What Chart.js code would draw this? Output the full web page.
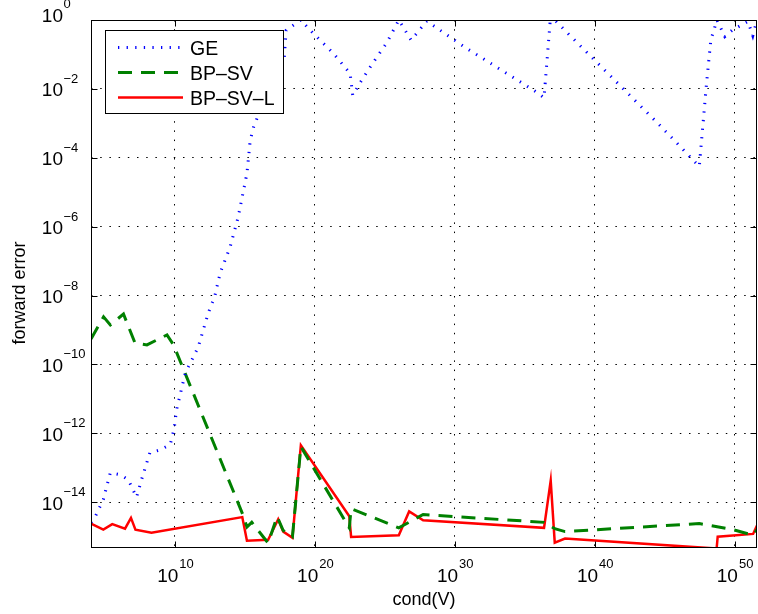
<!DOCTYPE html>
<html>
<head>
<meta charset="utf-8">
<script src="https://cdn.jsdelivr.net/npm/chart.js@4.4.1/dist/chart.umd.min.js"></script>
<style>
  html, body { margin: 0; padding: 0; background: #fff; }
</style>
</head>
<body>
<canvas id="errChart" width="758" height="614"></canvas>
<script>
// cond(V) and forward error
const condGE = [1.0e4, 2.0e4, 7.6e4, 2.4e5, 1.2e6, 4.6e6, 1.8e7, 4.1e7, 1.6e8, 8.5e8, 4.6e9, 8.9e9, 1.3e10,
  5.5e10, 4.6e11, 2.4e12, 7.2e12, 1.7e13, 8.9e13, 3.3e14, 1.4e15, 2.4e15, 4.1e15, 8.9e15, 6.5e17, 8.9e17,
  1.0e19, 7.6e19, 2.0e21, 3.3e22, 5.1e22, 1.7e23, 1.5e24, 1.4e25, 1.0e26, 7.6e26, 1.0e28, 5.5e30, 7.6e35,
  2.4e36, 6.5e36, 1.4e37, 1.2e38, 4.6e44, 3.0e47, 1.0e48, 2.0e48, 5.5e48, 2.0e49, 6.5e49, 9.0e50, 2.0e51, 4.0e51];
const errGE = [2.6e-15, 3.8e-15, 1.2e-14, 7.2e-14, 6.3e-14, 4.5e-14, 1.4e-14, 4.5e-14, 2.7e-13, 3.3e-13, 4.7e-13, 1.4e-12, 4.8e-12,
  5.6e-11, 3.2e-10, 3.1e-9, 1.0e-8, 4.5e-8, 2.6e-7, 1.9e-6, 3.5e-5, 3.2e-4, 7.6e-4, 1.7e-3, 8.1e-2, 0.5,
  1.0, 0.41, 0.11, 2.8e-2, 6.5e-3, 1.5e-2, 5.9e-2, 0.22, 1.0, 0.26, 0.93, 0.16, 7.9e-3,
  5.5e-3, 0.85, 1.0, 0.41, 8.7e-4, 5.6e-5, 1.5e-2, 0.26, 1.0, 0.33, 0.5, 0.91, 0.35, 1.0];

const condBPSV = [1.0e4, 7.9e4, 2.4e5, 2.1e6, 1.4e7, 1.0e8, 2.7e9, 7.9e9, 7.6e14, 1.4e15, 3.1e15, 4.6e16, 2.0e17,
  5.5e17, 2.5e18, 1.0e19, 2.9e22, 3.9e22, 1.0e26, 5.5e27, 2.4e36, 1.4e37, 7.6e37, 3.0e47, 7.6e49, 2.1e51, 4.0e51];
const errBPSV = [5.5e-10, 2.4e-9, 1.4e-9, 2.9e-9, 4.2e-10, 3.7e-10, 7.2e-10, 3.7e-10, 4.1e-15, 1.9e-15, 2.6e-15, 6.5e-16, 3.8e-15,
  1.5e-15, 1.0e-15, 4.1e-13, 1.8e-15, 6.5e-15, 1.8e-15, 4.4e-15, 2.6e-15, 1.7e-15, 1.4e-15, 2.4e-15, 1.6e-15, 1.1e-15, 1.6e-15];

const condBPSVL = [1.0e4, 7.6e4, 3.3e5, 2.7e6, 7.2e6, 1.5e7, 2.1e8, 6.5e14, 1.4e15, 4.6e16, 2.4e17, 5.5e17, 2.5e18,
  1.0e19, 2.9e22, 3.9e22, 1.0e26, 5.5e26, 5.5e27, 2.4e36, 7.2e36, 1.4e37, 7.6e37, 5.2e48, 6.2e48, 2.1e51, 4.0e51];
const errBPSVL = [2.4e-15, 1.6e-15, 2.3e-15, 1.7e-15, 3.5e-15, 1.6e-15, 1.3e-15, 3.7e-15, 7.6e-16, 8.1e-16, 3.2e-15, 1.4e-15, 9.3e-16,
  4.5e-13, 3.9e-15, 9.8e-16, 1.1e-15, 5.4e-15, 3.0e-15, 1.8e-15, 4.2e-14, 6.7e-16, 8.8e-16, 4.5e-16, 1.0e-15, 1.2e-15, 2.1e-15];

const seriesNames = ['GE', 'BP\u2013SV', 'BP\u2013SV\u2013L'];
const xTickExp = [10, 20, 30, 40, 50];
const yTickExp = [0, -2, -4, -6, -8, -10, -12, -14];
const xMin = 1e4, xMax = 4e51;
const yMin = 4.68e-16, yMax = 1;

const toPoints = (xs, ys) => xs.map((x, i) => ({ x: x, y: ys[i] }));
const FONT = '"Liberation Sans", Arial, Helvetica, sans-serif';

// axes box, inward ticks, tick labels, axis labels and legend, matlab style
const matlabAxes = {
  id: 'matlabAxes',
  afterDraw(chart) {
    const { ctx, chartArea: a, scales } = chart;
    const xs = scales.x, ys = scales.y;
    const L = Math.round(a.left) + 0.5, R = Math.round(a.right) - 0.5;
    const T = Math.round(a.top) + 0.5, B = Math.round(a.bottom) - 0.5;
    ctx.save();
    ctx.strokeStyle = '#000';
    ctx.lineWidth = 1;
    ctx.setLineDash([]);
    ctx.strokeRect(L, T, R - L, B - T);

    const tl = 6;
    ctx.beginPath();
    xTickExp.forEach(e => {
      const px = Math.round(xs.getPixelForValue(Math.pow(10, e))) + 0.5;
      ctx.moveTo(px, B); ctx.lineTo(px, B - tl);
      ctx.moveTo(px, T); ctx.lineTo(px, T + tl);
    });
    yTickExp.forEach(e => {
      const py = Math.round(ys.getPixelForValue(Math.pow(10, e))) + 0.5;
      ctx.moveTo(L, py); ctx.lineTo(L + tl, py);
      ctx.moveTo(R, py); ctx.lineTo(R - tl, py);
    });
    ctx.stroke();

    // tick labels: 10 with superscript exponent
    ctx.fillStyle = '#000';
    ctx.textBaseline = 'alphabetic';
    const baseFont = '19px ' + FONT, expFont = '13px ' + FONT;
    xTickExp.forEach(e => {
      const px = xs.getPixelForValue(Math.pow(10, e));
      ctx.font = baseFont;
      const w1 = ctx.measureText('10').width;
      ctx.font = expFont;
      const w2 = ctx.measureText(String(e)).width;
      const x0 = px - (w1 + w2) / 2;
      ctx.font = baseFont;
      ctx.textAlign = 'left';
      ctx.fillText('10', x0, 582);
      ctx.font = expFont;
      ctx.fillText(String(e), x0 + w1 + 1, 568);
    });
    yTickExp.forEach(e => {
      let py = ys.getPixelForValue(Math.pow(10, e));
      if (e === 0) py -= 6;
      ctx.font = baseFont;
      ctx.textAlign = 'right';
      ctx.fillText('10', 63, py + 7.5);
      ctx.font = expFont;
      ctx.textAlign = 'left';
      ctx.fillText(e < 0 ? '\u2212' + (-e) : String(e), 63.5, py - 6);
    });

    // axis titles
    ctx.font = '18px ' + FONT;
    ctx.textAlign = 'center';
    ctx.fillText('cond(V)', (a.left + a.right) / 2, 605);
    ctx.save();
    ctx.translate(25, 293);
    ctx.rotate(-Math.PI / 2);
    ctx.fillText('forward error', 0, 0);
    ctx.restore();

    // legend
    ctx.fillStyle = '#fff';
    ctx.fillRect(105.5, 30.5, 178, 83);
    ctx.strokeStyle = '#000';
    ctx.lineWidth = 1;
    ctx.strokeRect(105.5, 30.5, 178, 83);
    chart.data.datasets.forEach((ds, i) => {
      const ly = 47.5 + 25 * i;
      ctx.save();
      ctx.strokeStyle = ds.borderColor;
      ctx.lineWidth = ds.borderWidth;
      ctx.setLineDash(ds.borderDash || []);
      ctx.lineCap = 'butt';
      ctx.beginPath();
      ctx.moveTo(118, ly); ctx.lineTo(183, ly);
      ctx.stroke();
      ctx.restore();
      ctx.fillStyle = '#000';
      ctx.font = '19.5px ' + FONT;
      ctx.textAlign = 'left';
      ctx.fillText(ds.label, 190, ly + 7);
    });
    ctx.restore();
  }
};

const ctx = document.getElementById('errChart').getContext('2d');
new Chart(ctx, {
  type: 'line',
  data: {
    datasets: [
      {
        label: seriesNames[0],
        data: toPoints(condGE, errGE),
        borderColor: '#0000ff',
        borderWidth: 3,
        borderDash: [1.3, 7.3]
      },
      {
        label: seriesNames[1],
        data: toPoints(condBPSV, errBPSV),
        borderColor: '#008000',
        borderWidth: 3,
        borderDash: [14, 9]
      },
      {
        label: seriesNames[2],
        data: toPoints(condBPSVL, errBPSVL),
        borderColor: '#ff0000',
        borderWidth: 2.5
      }
    ]
  },
  options: {
    responsive: false,
    animation: false,
    devicePixelRatio: 1,
    parsing: true,
    elements: {
      point: { radius: 0 },
      line: { tension: 0, borderCapStyle: 'butt', borderJoinStyle: 'miter' }
    },
    layout: { padding: { left: 91, top: 20, right: 1, bottom: 66 } },
    scales: {
      x: {
        type: 'logarithmic',
        min: xMin,
        max: xMax,
        afterBuildTicks: s => { s.ticks = xTickExp.map(e => ({ value: Math.pow(10, e) })); },
        ticks: { display: false },
        grid: { color: '#000', lineWidth: 1, drawTicks: false },
        border: { display: false, dash: [1.5, 7.7] }
      },
      y: {
        type: 'logarithmic',
        min: yMin,
        max: yMax,
        afterBuildTicks: s => { s.ticks = yTickExp.map(e => ({ value: Math.pow(10, e) })); },
        ticks: { display: false },
        grid: { color: '#000', lineWidth: 1, drawTicks: false },
        border: { display: false, dash: [1.5, 7.7] }
      }
    },
    plugins: {
      legend: { display: false },
      tooltip: { enabled: false }
    }
  },
  plugins: [matlabAxes]
});
</script>
</body>
</html>
